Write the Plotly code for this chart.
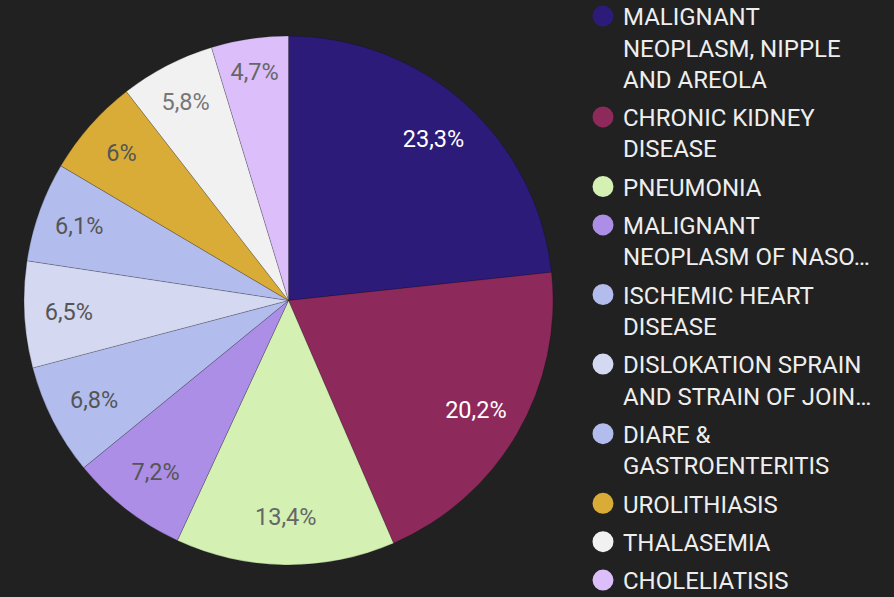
import plotly.graph_objects as go

labels = ["MALIGNANT NEOPLASM, NIPPLE AND AREOLA", "CHRONIC KIDNEY DISEASE", "PNEUMONIA",
          "MALIGNANT NEOPLASM OF NASOPHARYNX", "ISCHEMIC HEART DISEASE",
          "DISLOKATION SPRAIN AND STRAIN OF JOINTS", "DIARE & GASTROENTERITIS",
          "UROLITHIASIS", "THALASEMIA", "CHOLELIATISIS"]
legend_text = ["MALIGNANT<br>NEOPLASM, NIPPLE<br>AND AREOLA", "CHRONIC KIDNEY<br>DISEASE", "PNEUMONIA",
               "MALIGNANT<br>NEOPLASM OF NASO…", "ISCHEMIC HEART<br>DISEASE",
               "DISLOKATION SPRAIN<br>AND STRAIN OF JOIN…", "DIARE &<br>GASTROENTERITIS",
               "UROLITHIASIS", "THALASEMIA", "CHOLELIATISIS"]
values = [23.3, 20.2, 13.4, 7.2, 6.8, 6.5, 6.1, 6.0, 5.8, 4.7]
colors = ["#2c1b79", "#8e2a5b", "#d4f0b3", "#ac8ee6", "#b2bdee", "#d4d8f1", "#b2bdee",
          "#d9ac37", "#f1f1f1", "#dcbffa"]
text_colors = ["#ffffff", "#ffffff", "#666666", "#555555", "#555555", "#555555", "#555555",
               "#555555", "#777777", "#666666"]

pct_text = [(f"{v:g}".replace(".", ",") + "%") for v in values]

W, H = 894, 597
dom = dict(x=[24/W, 553/W], y=[32/H, 1 - 36/H])

fig = go.Figure()
# slices
fig.add_trace(go.Pie(
    labels=labels, values=values, sort=False, direction="clockwise", rotation=0,
    textinfo="none",
    marker=dict(colors=colors, line=dict(color="rgba(0,0,0,0.3)", width=0.6)),
    showlegend=False, domain=dom, hoverinfo="label+percent",
))
# percentage labels (transparent ring so labels sit near the outer part of each slice)
fig.add_trace(go.Pie(
    labels=labels, values=values, sort=False, direction="clockwise", rotation=0,
    hole=0.64, text=pct_text, textinfo="text", textposition="inside",
    insidetextorientation="horizontal",
    marker=dict(colors=["rgba(0,0,0,0)"] * len(values), line=dict(width=0)),
    textfont=dict(family="Roboto", size=23.5, color=text_colors),
    showlegend=False, domain=dom, hoverinfo="skip",
))
for i, (lt, c) in enumerate(zip(legend_text, colors)):
    fig.add_trace(go.Scatter(
        x=[None], y=[None], mode="markers", name=lt, legendgroup=f"g{i}",
        marker=dict(symbol="circle", size=16, color=c, line=dict(color=c, width=5)),
    ))

fig.update_layout(
    width=W, height=H,
    paper_bgcolor="#212121", plot_bgcolor="#212121",
    margin=dict(l=0, r=0, t=0, b=0, autoexpand=False),
    xaxis=dict(visible=False), yaxis=dict(visible=False),
    uniformtext=dict(minsize=23.5, mode="show"),
    legend=dict(x=583/W, y=1 + 6/H, xanchor="left", yanchor="top",
                valign="top", font=dict(family="Roboto", size=24, color="#eeeeee"),
                bgcolor="rgba(0,0,0,0)", tracegroupgap=4.2, itemwidth=30,
                maxheight=800),
)
fig.write_html("out.html", config={"displayModeBar": False},
               post_script="document.body.style.margin='0';")
